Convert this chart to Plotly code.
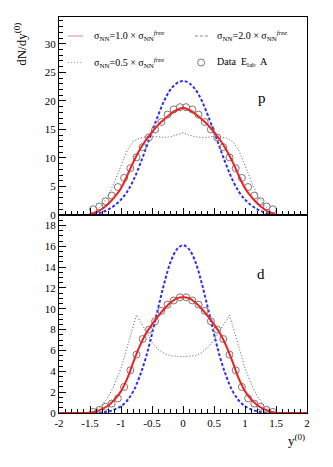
import plotly.graph_objects as go

# Rejilla de rapidez para las curvas del modelo
x_grid = [-2.0, -1.9, -1.8, -1.7, -1.6, -1.5, -1.4, -1.3, -1.2, -1.1, -1.0,
          -0.9, -0.8, -0.7, -0.6, -0.5, -0.4, -0.3, -0.2, -0.1, 0.0,
          0.1, 0.2, 0.3, 0.4, 0.5, 0.6, 0.7, 0.8, 0.9, 1.0,
          1.1, 1.2, 1.3, 1.4, 1.5, 1.6, 1.7, 1.8, 1.9, 2.0]

# Protones (panel superior)
p_sigma10 = [0, 0, 0, 0, 0, 0.05, 0.45, 1.1, 2.0, 3.2, 4.7,
             6.9, 9.3, 11.4, 13.1, 14.5, 15.8, 16.8, 17.7, 18.4, 18.8,
             18.4, 17.7, 16.8, 15.8, 14.5, 13.1, 11.4, 9.3, 6.9, 4.7,
             3.2, 2.0, 1.1, 0.45, 0.05, 0, 0, 0, 0, 0]
p_sigma20 = [0, 0, 0, 0, 0, 0, 0.15, 0.5, 1.0, 1.7, 2.7,
             4.1, 6.1, 8.7, 11.6, 14.6, 17.5, 20.1, 22.0, 23.1, 23.5,
             23.1, 22.0, 20.1, 17.5, 14.6, 11.6, 8.7, 6.1, 4.1, 2.7,
             1.7, 1.0, 0.5, 0.15, 0, 0, 0, 0, 0, 0]
p_sigma05 = [0, 0, 0, 0, 0, 0.15, 0.7, 1.8, 3.5, 5.9, 8.7,
             11.3, 12.9, 13.5, 13.7, 13.8, 13.7, 13.6, 13.7, 14.0, 14.4,
             14.0, 13.7, 13.6, 13.6, 13.8, 13.7, 13.5, 12.9, 11.3, 8.7,
             5.9, 3.5, 1.8, 0.7, 0.15, 0, 0, 0, 0, 0]

# Deuterones (panel inferior)
d_sigma10 = [0, 0, 0, 0, 0, 0.02, 0.15, 0.4, 0.75, 1.3, 2.1,
             3.3, 4.9, 6.4, 7.6, 8.5, 9.3, 10.0, 10.6, 11.0, 11.1,
             11.0, 10.6, 10.0, 9.3, 8.5, 7.6, 6.4, 4.9, 3.3, 2.1,
             1.3, 0.75, 0.4, 0.15, 0.02, 0, 0, 0, 0, 0]
d_sigma20 = [0, 0, 0, 0, 0, 0, 0.02, 0.06, 0.15, 0.35, 0.65,
             1.2, 2.1, 3.5, 5.3, 7.6, 10.1, 12.5, 14.5, 15.7, 16.1,
             15.7, 14.5, 12.5, 10.1, 7.6, 5.3, 3.5, 2.1, 1.2, 0.65,
             0.35, 0.15, 0.06, 0.02, 0, 0, 0, 0, 0, 0]
x_d05 = [-2.0, -1.9, -1.8, -1.7, -1.6, -1.5, -1.4, -1.3, -1.2, -1.1, -1.0,
         -0.9, -0.8, -0.75, -0.7, -0.6, -0.5, -0.4, -0.3, -0.2, -0.1, 0.0,
         0.1, 0.2, 0.3, 0.4, 0.5, 0.6, 0.7, 0.75, 0.8, 0.9, 1.0,
         1.1, 1.2, 1.3, 1.4, 1.5, 1.6, 1.7, 1.8, 1.9, 2.0]
d_sigma05 = [0, 0, 0, 0, 0, 0.05, 0.3, 0.8, 1.6, 2.8, 4.3,
             6.3, 8.4, 9.4, 8.9, 7.8, 6.8, 6.1, 5.7, 5.5, 5.45, 5.4,
             5.45, 5.5, 5.8, 6.3, 7.0, 7.9, 8.9, 9.4, 8.4, 6.3, 4.3,
             2.8, 1.6, 0.8, 0.3, 0.05, 0, 0, 0, 0, 0]

# Datos experimentales (circulos)
x_data = [-1.45, -1.35, -1.25, -1.15, -1.05, -0.95, -0.85, -0.75, -0.65, -0.55,
          -0.45, -0.35, -0.25, -0.15, -0.05, 0.05, 0.15, 0.25, 0.35, 0.45,
          0.55, 0.65, 0.75, 0.85, 0.95, 1.05, 1.15, 1.25, 1.35, 1.45]
p_data = [1.0, 1.5, 2.4, 3.4, 4.9, 6.5, 8.2, 10.1, 11.9, 13.6,
          15.0, 16.3, 17.6, 18.5, 18.9, 18.9, 18.5, 17.6, 16.3, 15.0,
          13.6, 11.9, 10.1, 8.2, 6.5, 4.9, 3.4, 2.4, 1.5, 1.0]
d_data = [0.1, 0.3, 0.6, 0.9, 1.4, 2.5, 4.1, 5.6, 7.1, 8.0,
          8.8, 9.8, 10.4, 10.8, 11.1, 11.1, 10.8, 10.4, 9.8, 8.8,
          8.0, 7.1, 5.6, 4.1, 2.5, 1.4, 0.9, 0.6, 0.3, 0.1]

x_ticks = [-2, -1.5, -1, -0.5, 0, 0.5, 1, 1.5, 2]
x_ticktext = ["-2", "-1.5", "-1", "-0.5", "0", "0.5", "1", "1.5", "2"]

ROJO = "#f02020"
AZUL = "#3030f0"
NEGRO = "#555555"
GRIS = "#777777"
FUENTE = "Liberation Serif"

fig = go.Figure()

def agregar_panel(xa, ya, y05, y10, y20, x05, datos):
    fig.add_trace(go.Scatter(x=x05, y=y05, mode="lines", xaxis=xa, yaxis=ya,
                             line=dict(color=NEGRO, width=1, dash="1px,2px"), showlegend=False))
    fig.add_trace(go.Scatter(x=x_grid, y=y20, mode="lines", xaxis=xa, yaxis=ya,
                             line=dict(color=AZUL, width=2, dash="3px,2px", shape="spline"), showlegend=False))
    fig.add_trace(go.Scatter(x=x_data, y=datos, mode="markers", xaxis=xa, yaxis=ya,
                             marker=dict(symbol="circle-open", size=7, color=GRIS, line=dict(width=1)),
                             showlegend=False))
    fig.add_trace(go.Scatter(x=x_grid, y=y10, mode="lines", xaxis=xa, yaxis=ya,
                             line=dict(color=ROJO, width=2, shape="spline"), showlegend=False))

agregar_panel("x", "y", p_sigma05, p_sigma10, p_sigma20, x_grid, p_data)
agregar_panel("x2", "y2", d_sigma05, d_sigma10, d_sigma20, x_d05, d_data)

eje_x = dict(range=[-2, 2], tickvals=x_ticks, ticktext=x_ticktext, ticks="inside", ticklen=7,
             tickcolor="black", showline=True, linecolor="black", linewidth=1, mirror=True,
             showgrid=False, zeroline=False,
             minor=dict(dtick=0.1, ticks="inside", ticklen=4, tickcolor="black"),
             tickfont=dict(family=FUENTE, size=11, color="black"))
eje_y = dict(ticks="inside", ticklen=7, tickcolor="black", showline=True, linecolor="black",
             linewidth=1, mirror=True, showgrid=False, zeroline=False,
             tickfont=dict(family=FUENTE, size=11, color="black"))

# la pagina tiene un margen de 8 px, se compensa en el tamano
fig.update_layout(
    width=317, height=451,
    margin=dict(l=51, r=18, t=9, b=46),
    paper_bgcolor="white", plot_bgcolor="white",
    xaxis=dict(eje_x, anchor="y", showticklabels=False, domain=[0, 1]),
    yaxis=dict(eje_y, range=[0, 34.7], dtick=5, domain=[0.5, 1], anchor="x",
               minor=dict(dtick=1, ticks="inside", ticklen=4, tickcolor="black")),
    xaxis2=dict(eje_x, anchor="y2", domain=[0, 1]),
    yaxis2=dict(eje_y, range=[0, 19.0], dtick=2, domain=[0, 0.5], anchor="x2",
                minor=dict(dtick=0.5, ticks="inside", ticklen=4, tickcolor="black")),
)

# Leyenda dibujada a mano en dos columnas
fila1, fila2 = 0.952, 0.885
fig.add_shape(type="line", xref="paper", yref="paper", x0=0.036, x1=0.097, y0=fila1, y1=fila1,
              line=dict(color="#f08080", width=1))
fig.add_shape(type="line", xref="paper", yref="paper", x0=0.036, x1=0.097, y0=fila2, y1=fila2,
              line=dict(color="#999999", width=1, dash="1px,2px"))
fig.add_shape(type="line", xref="paper", yref="paper", x0=0.548, x1=0.609, y0=fila1, y1=fila1,
              line=dict(color="#8080f0", width=1, dash="3px,2px"))
fig.add_shape(type="circle", xref="paper", yref="paper", xsizemode="pixel", ysizemode="pixel",
              xanchor=0.573, yanchor=fila2, x0=-3.5, x1=3.5, y0=-3.5, y1=3.5,
              line=dict(color=GRIS, width=1))

textos = [
    (0.133, fila1, "σ<sub>NN</sub>=1.0 × σ<sub>NN</sub><sup><i>free</i></sup>"),
    (0.133, fila2, "σ<sub>NN</sub>=0.5 × σ<sub>NN</sub><sup><i>free</i></sup>"),
    (0.629, fila1, "σ<sub>NN</sub>=2.0 × σ<sub>NN</sub><sup><i>free</i></sup>"),
    (0.629, fila2, "Data  E<sub>lab</sub>  A"),
]
for tx, ty, t in textos:
    fig.add_annotation(x=tx, y=ty, xref="paper", yref="paper", text=t, showarrow=False,
                       xanchor="left", yanchor="middle",
                       font=dict(family=FUENTE, size=10, color="black"))

# Etiquetas de los paneles
fig.add_annotation(x=0.843, y=0.821, xref="paper", yref="paper", text="p", showarrow=False,
                   font=dict(family=FUENTE, size=15, color="black"))
fig.add_annotation(x=0.839, y=0.351, xref="paper", yref="paper", text="d", showarrow=False,
                   font=dict(family=FUENTE, size=15, color="black"))

# Titulos de los ejes
fig.add_annotation(x=-0.157, y=0.93, xref="paper", yref="paper", text="dN/dy<sup>(0)</sup>",
                   showarrow=False, textangle=-90, xanchor="center", yanchor="middle",
                   font=dict(family=FUENTE, size=13, color="black"))
fig.add_annotation(x=1.0, y=-0.068, xref="paper", yref="paper", text="y<sup>(0)</sup>",
                   showarrow=False, xanchor="right", yanchor="middle",
                   font=dict(family=FUENTE, size=13, color="black"))

fig.write_html("out.html")
